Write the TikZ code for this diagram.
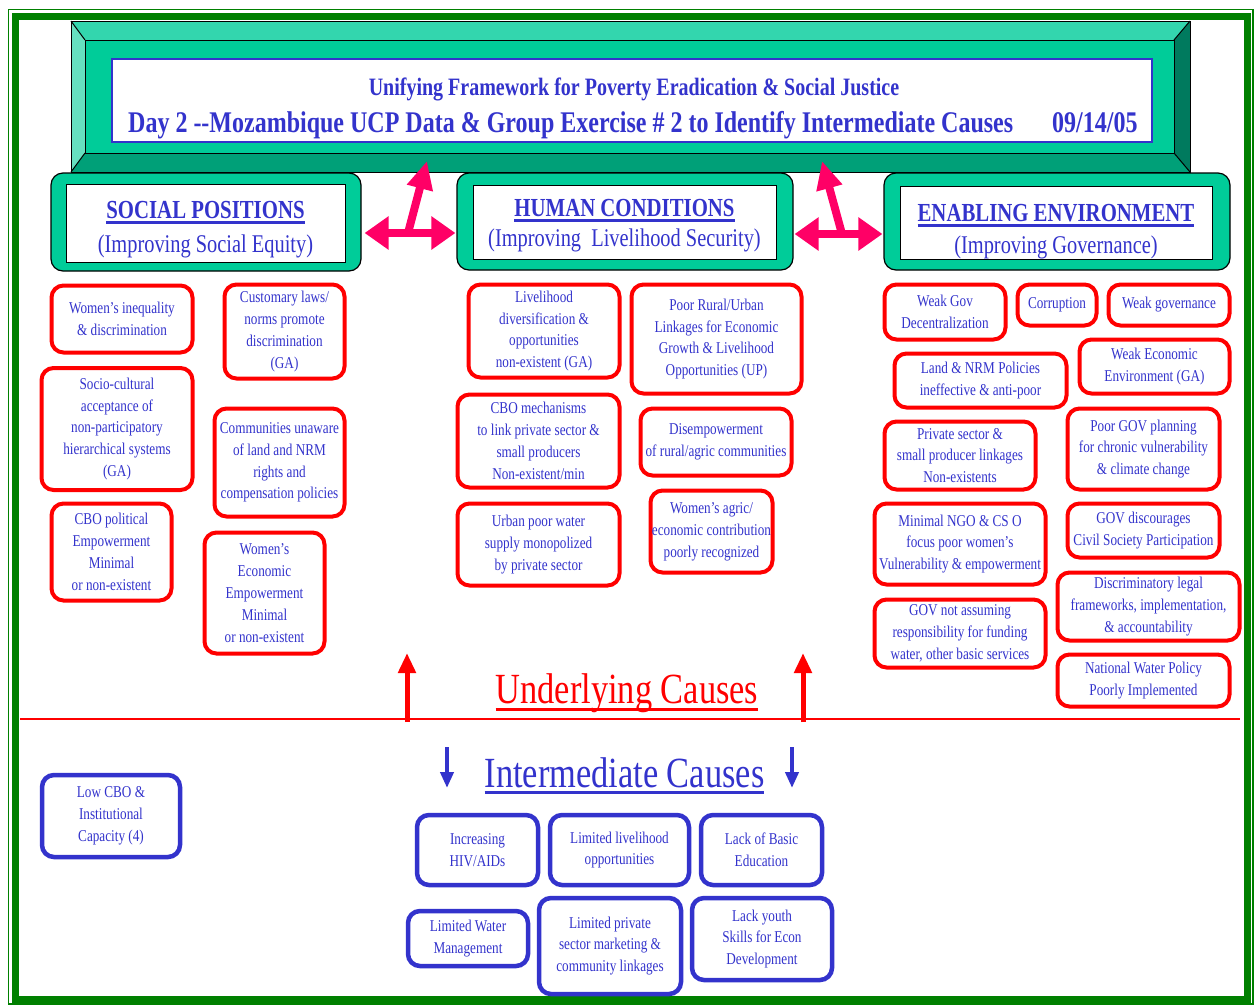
\documentclass[tikz,border=0pt]{standalone}
\usepackage{fontspec}
\setmainfont[FakeStretch=0.8]{Liberation Serif}
\usetikzlibrary{arrows.meta}

\newcommand{\ucline}[2][6pt]{\setbox0=\hbox{#2}\rlap{\rule[-#1]{\wd0}{3pt}}\box0}

\tikzset{
  causebox/.style={draw=ucred, line width=4pt, rounded corners=12pt, fill=white, text=ucblue, align=center, inner sep=1pt, font=\fontsize{16.5}{21.8}\selectfont},
  interbox/.style={causebox, draw=ucblue, line width=4.5pt},
  groupbox/.style={draw=black, line width=1.2pt, fill=ucteal, rounded corners=12pt},
  headbox/.style={draw=black, line width=1pt, fill=white},
  headtxt/.style={text=ucblue, anchor=base, inner sep=0pt, font=\bfseries\fontsize{26}{30}\selectfont},
  subtxt/.style={text=ucblue, anchor=base, inner sep=0pt, font=\fontsize{25.5}{30}\selectfont},
  pinkboth/.style={draw=ucpink, line width=8pt, {Triangle[width=32pt,length=24pt]}-{Triangle[width=32pt,length=24pt]}},
  pinkup/.style={draw=ucpink, line width=8pt, -{Triangle[width=25pt,length=28pt]}},
}

\begin{document}
\begin{tikzpicture}[x=1pt, y=-1pt]

\definecolor{ucblue}{RGB}{51,51,204}
\definecolor{ucred}{RGB}{255,0,0}
\definecolor{ucpink}{RGB}{255,0,102}
\definecolor{ucteal}{RGB}{0,204,153}
\definecolor{ucgreen}{RGB}{0,128,0}
\definecolor{bvtop}{RGB}{51,214,174}
\definecolor{bvleft}{RGB}{102,224,192}
\definecolor{bvright}{RGB}{0,122,94}
\definecolor{bvbot}{RGB}{0,160,120}

\useasboundingbox (0,0) rectangle (1254,1005);

% frame
\draw[ucgreen, line width=1.5pt] (8.5,9.5) rectangle (1253,1004);
\draw[ucgreen, line width=7pt] (15.5,16.5) rectangle (1247.5,999.5);

% title banner
\fill[bvtop] (71,21)--(1190,21)--(1174,40)--(85,40)--cycle;
\fill[bvleft] (71,21)--(85,40)--(85,153)--(71,172)--cycle;
\fill[bvright] (1190,21)--(1190,172)--(1174,153)--(1174,40)--cycle;
\fill[bvbot] (71,172)--(85,153)--(1174,153)--(1190,172)--cycle;
\fill[ucteal] (85,40) rectangle (1174,153);
\draw[line width=1pt] (71,21) rectangle (1190,172) (85,40) rectangle (1174,153);
\draw[line width=1pt] (71,21)--(85,40) (1190,21)--(1174,40) (71,172)--(85,153) (1190,172)--(1174,153);
\node[draw=ucblue, line width=1.5pt, fill=white, minimum width=1040pt, minimum height=83pt] (ttl) at (632,100.5) {};
\node[text=ucblue, anchor=base, font=\bfseries\fontsize{25}{30}\selectfont] (ttl1) at (634,95) {Unifying Framework for Poverty Eradication \& Social Justice};
\node[text=ucblue, anchor=base west, inner sep=0pt, font=\bfseries\fontsize{30}{34}\selectfont] (ttl2) at (128,132) {Day 2 -{}-Mozambique UCP Data \& Group Exercise \# 2 to Identify Intermediate Causes};
\node[text=ucblue, anchor=base west, inner sep=0pt, font=\bfseries\fontsize{30}{34}\selectfont] (date) at (1052,132) {09/14/05};

% group headers
\node[groupbox, minimum width=310pt, minimum height=98pt] (soc) at (206,222) {};
\node[headbox, minimum width=279pt, minimum height=78pt] (socin) at (205.5,223) {};
\node[headtxt] (soct) at (205.5,218) {\ucline{SOCIAL POSITIONS}};
\node[subtxt] (socs) at (205.5,252) {(Improving Social Equity)};

\node[groupbox, minimum width=336pt, minimum height=97pt] (hum) at (625,221.5) {};
\node[headbox, minimum width=303pt, minimum height=74pt] (humin) at (624.5,222) {};
\node[headtxt] (humt) at (624.5,216) {\ucline{HUMAN CONDITIONS}};
\node[subtxt] (hums) at (624.5,246) {(Improving\ \ Livelihood Security)};

\node[groupbox, minimum width=346pt, minimum height=97pt] (env) at (1057,221.5) {};
\node[headbox, minimum width=312pt, minimum height=73pt] (envin) at (1056,222.5) {};
\node[headtxt] (envt) at (1056,221) {\ucline{ENABLING ENVIRONMENT}};
\node[subtxt] (envs) at (1056,253) {(Improving Governance)};

% pink arrows
\coordinate (sa) at (408,233);
\coordinate (sat) at (427,161);
\coordinate (sb) at (842,234);
\coordinate (sbt) at (822,161);
\draw[pinkboth, shorten <=3pt, shorten >=1pt] ([yshift=-11pt]soc.east) -- ([yshift=-11.5pt]hum.west);
\draw[pinkboth, shorten <=1pt, shorten >=1pt] ([yshift=-12.5pt]hum.east) -- ([yshift=-12.5pt]env.west);
\draw[pinkup] (sa) -- (sat);
\draw[pinkup] (sb) -- (sbt);

% social positions
\node[causebox, minimum width=141pt, minimum height=67pt] (wi) at (122,319) {Women’s inequality\\\& discrimination};
\node[causebox, minimum width=120pt, minimum height=94pt] (cl) at (284.5,331.5) {Customary laws/\\norms promote\\discrimination\\(GA)};
\node[causebox, minimum width=151pt, minimum height=122pt] (sca) at (117,429) {Socio-cultural\\acceptance of\\non-participatory\\hierarchical systems\\(GA)};
\node[causebox, minimum width=130pt, minimum height=108pt] (cu) at (279.5,462.5) {Communities unaware\\of land and NRM\\rights and\\compensation policies};
\node[causebox, minimum width=120pt, minimum height=97pt] (cbo) at (111.5,552) {CBO political\\Empowerment\\Minimal\\or non-existent};
\node[causebox, minimum width=120pt, minimum height=121pt] (wee) at (264.5,593) {Women’s\\Economic\\Empowerment\\Minimal\\or non-existent};

% human conditions
\node[causebox, minimum width=151pt, minimum height=93pt] (ld) at (544,331) {Livelihood\\diversification \&\\opportunities\\non-existent (GA)};
\node[causebox, minimum width=170pt, minimum height=109pt] (prl) at (716.5,339) {Poor Rural/Urban\\Linkages for Economic\\Growth \& Livelihood\\Opportunities (UP)};
\node[causebox, minimum width=162pt, minimum height=93pt] (cm) at (538.5,441) {CBO mechanisms\\to link private sector \&\\small producers\\Non-existent/min};
\node[causebox, minimum width=151pt, minimum height=67pt] (dis) at (716,442) {Disempowerment\\of rural/agric communities};
\node[causebox, minimum width=162pt, minimum height=82pt] (upw) at (538.5,544.5) {Urban poor water\\supply monopolized\\by private sector};
\node[causebox, minimum width=122pt, minimum height=82pt] (wa) at (711.5,531.5) {Women’s agric/\\economic contribution\\poorly recognized};

% enabling environment
\node[causebox, minimum width=121pt, minimum height=55pt] (wgd) at (945,312) {Weak Gov\\Decentralization};
\node[causebox, minimum width=79pt, minimum height=41pt] (cor) at (1057,305) {Corruption};
\node[causebox, minimum width=121pt, minimum height=41pt] (wg) at (1169,305) {Weak governance};
\node[causebox, minimum width=172pt, minimum height=54pt] (lnp) at (980.5,380.5) {Land \& NRM Policies\\ineffective \& anti-poor};
\node[causebox, minimum width=150pt, minimum height=54pt] (wec) at (1154.5,366.5) {Weak Economic\\Environment (GA)};
\node[causebox, minimum width=151pt, minimum height=68pt] (psl) at (960,455.5) {Private sector \&\\small producer linkages\\Non-existents};
\node[causebox, minimum width=152pt, minimum height=81pt] (pgp) at (1143.5,449) {Poor GOV planning\\for chronic vulnerability\\\& climate change};
\node[causebox, minimum width=171pt, minimum height=81pt] (ngo) at (960,544) {Minimal NGO \& CS O\\focus poor women’s\\Vulnerability \& empowerment};
\node[causebox, minimum width=152pt, minimum height=54pt] (gcs) at (1143.5,530.5) {GOV discourages\\Civil Society Participation};
\node[causebox, minimum width=171pt, minimum height=68pt] (gna) at (960,633.5) {GOV not assuming\\responsibility for funding\\water, other basic services};
\node[causebox, minimum width=182pt, minimum height=68pt] (dlf) at (1148.5,606.5) {Discriminatory legal\\frameworks, implementation,\\\& accountability};
\node[causebox, minimum width=172pt, minimum height=52pt] (nwp) at (1143.5,680.5) {National Water Policy\\Poorly Implemented};

% underlying / intermediate divide
\coordinate (divl) at (20,719);
\coordinate (divr) at (1240,719);
\draw[ucred, line width=2pt] (divl) -- (divr);
\coordinate (ul) at (407,722);
\coordinate (ult) at (407,653);
\coordinate (ur) at (803,722);
\coordinate (urt) at (803,653);
\draw[ucred, line width=5pt, -{Triangle[width=17pt,length=20pt]}] (ul) -- (ult);
\draw[ucred, line width=5pt, -{Triangle[width=17pt,length=20pt]}] (ur) -- (urt);
\node[text=ucred, anchor=base, inner sep=0pt, font=\fontsize{43}{48}\selectfont] (uc) at (627,703) {\ucline[8pt]{Underlying Causes}};

\coordinate (dl) at (447,747);
\coordinate (dlt) at (447,788);
\coordinate (dr) at (792,747);
\coordinate (drt) at (792,788);
\draw[ucblue, line width=4pt, -{Triangle[width=13pt,length=16pt]}] (dl) -- (dlt);
\draw[ucblue, line width=4pt, -{Triangle[width=13pt,length=16pt]}] (dr) -- (drt);
\node[text=ucblue, anchor=base, inner sep=0pt, font=\fontsize{43}{48}\selectfont] (ic) at (624.5,787) {\ucline[7pt]{Intermediate Causes}};

% intermediate causes
\node[interbox, minimum width=138pt, minimum height=82pt] (lcb) at (111,816) {Low CBO \&\\Institutional\\Capacity (4)};
\node[interbox, minimum width=121pt, minimum height=70pt] (hiv) at (477.5,850) {Increasing\\HIV/AIDs};
\node[interbox, minimum width=139pt, minimum height=70pt] (llo) at (619.5,850) {Limited livelihood\\opportunities};
\node[interbox, minimum width=121pt, minimum height=70pt] (lbe) at (761.5,850) {Lack of Basic\\Education};
\node[interbox, minimum width=120pt, minimum height=55pt] (lwm) at (468,938.5) {Limited Water\\Management};
\node[interbox, minimum width=142pt, minimum height=96pt] (lps) at (610,946) {Limited private\\sector marketing \&\\community linkages};
\node[interbox, minimum width=140pt, minimum height=82pt] (lys) at (762,939) {Lack youth\\Skills for Econ\\Development};

\end{tikzpicture}
\end{document}
